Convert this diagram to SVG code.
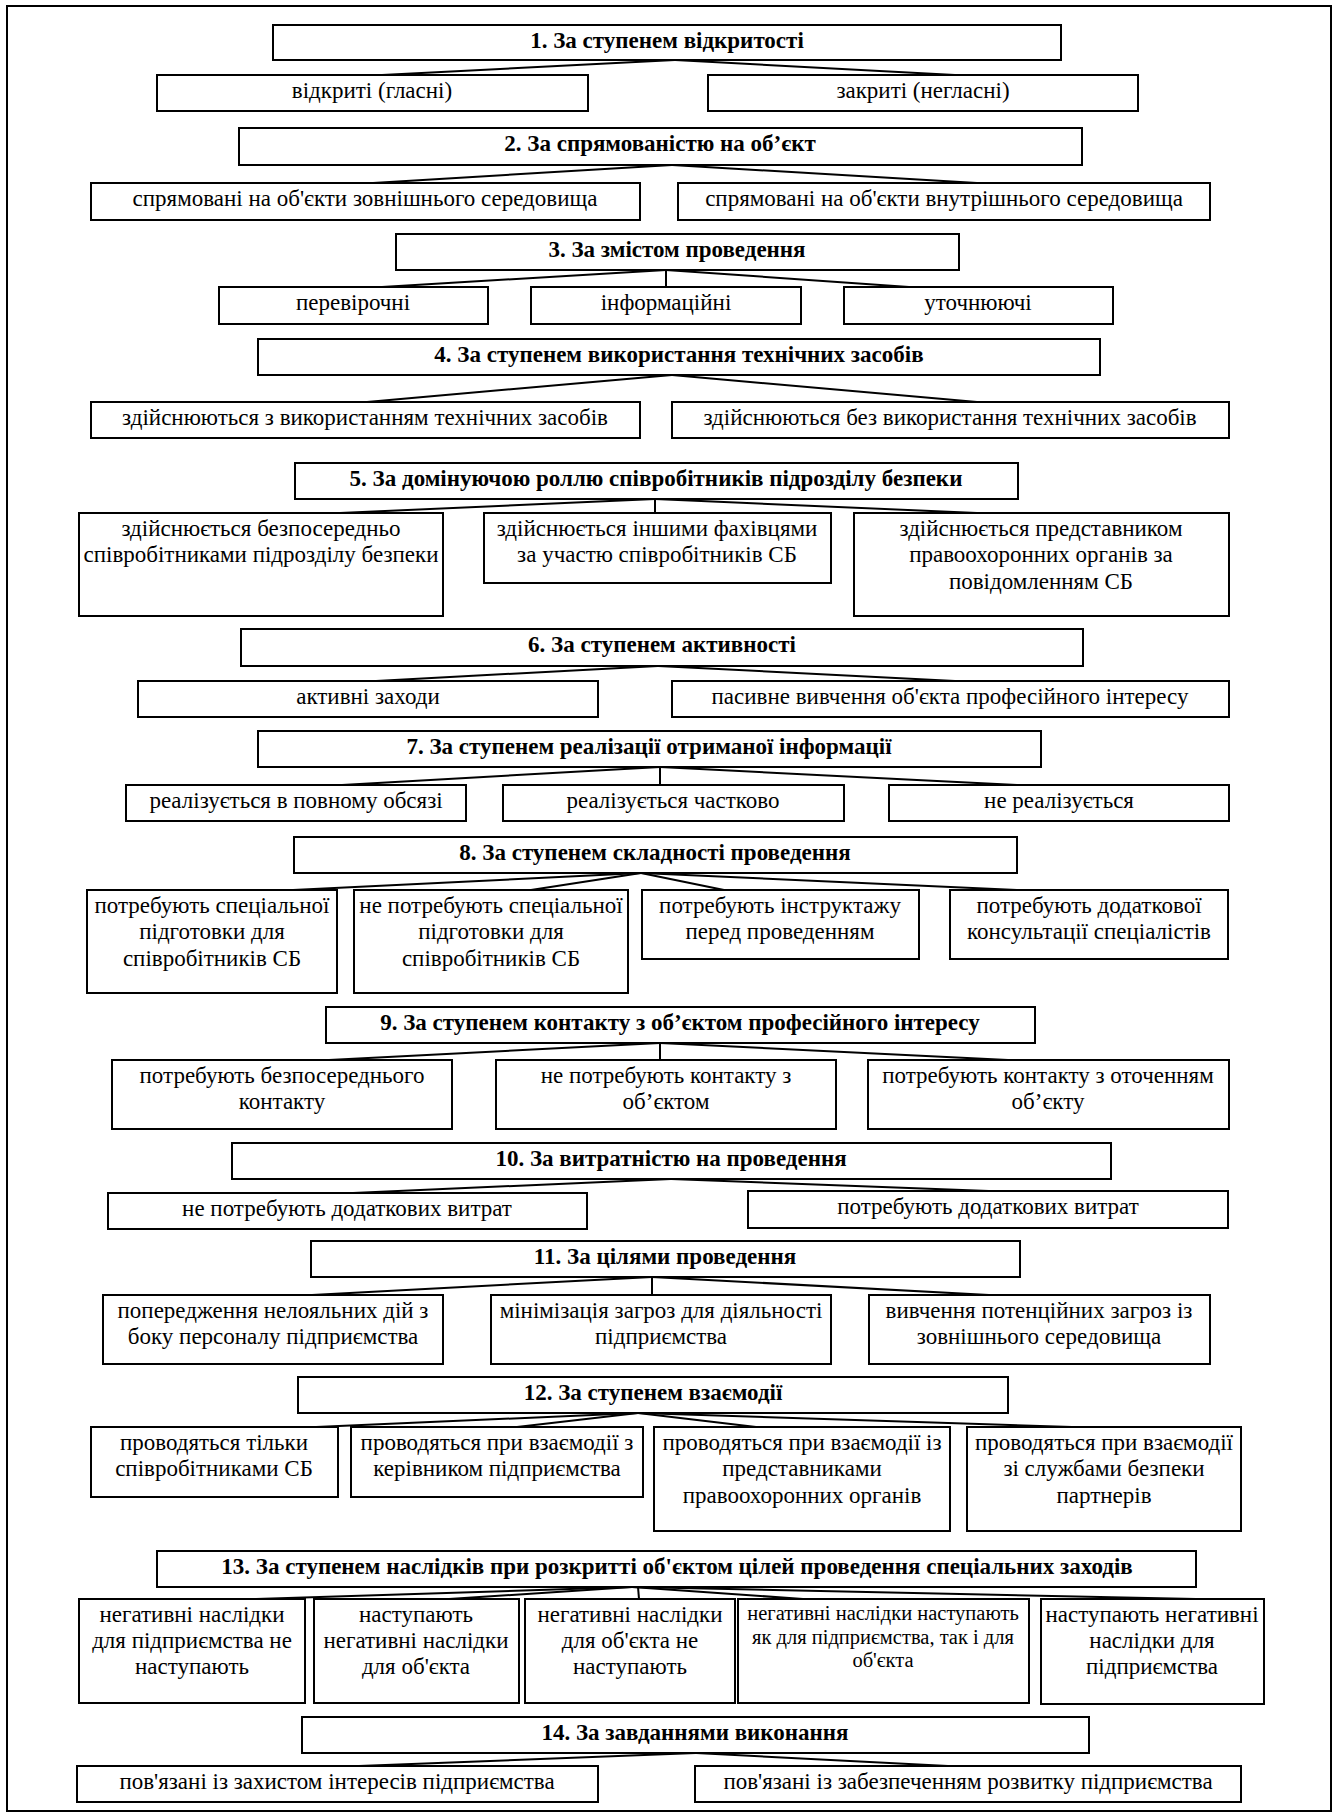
<svg xmlns="http://www.w3.org/2000/svg" width="1338" height="1814" viewBox="0 0 1338 1814">
<style>
rect.n{fill:#fff;stroke:#000;stroke-width:2}
text{font-family:"Liberation Serif","Times New Roman",serif;font-size:23px;text-anchor:middle;fill:#000}
text.h{font-weight:bold}
text.s{font-size:20.5px}
#connectors line{stroke:#000;stroke-width:2}
</style>
<rect x="0" y="0" width="1338" height="1814" fill="#fff"/>
<rect x="7" y="6" width="1324" height="1805" fill="none" stroke="#000" stroke-width="2"/>
<g id="connectors">
<line x1="675" y1="60" x2="382" y2="75"/><line x1="675" y1="60" x2="955" y2="75"/>
<line x1="672" y1="165" x2="373" y2="183"/><line x1="672" y1="165" x2="977" y2="183"/>
<line x1="666" y1="270" x2="382" y2="287"/><line x1="666" y1="270" x2="666" y2="287"/><line x1="666" y1="270" x2="909" y2="287"/>
<line x1="672" y1="375" x2="367" y2="402"/><line x1="672" y1="375" x2="977" y2="402"/>
<line x1="655" y1="499" x2="340" y2="513"/><line x1="655" y1="499" x2="655" y2="513"/><line x1="655" y1="499" x2="977" y2="513"/>
<line x1="658" y1="666" x2="376" y2="681"/><line x1="658" y1="666" x2="955" y2="681"/>
<line x1="660" y1="767" x2="342" y2="785"/><line x1="660" y1="767" x2="660" y2="785"/><line x1="660" y1="767" x2="1017" y2="785"/>
<line x1="641" y1="873" x2="293" y2="890"/><line x1="641" y1="873" x2="531" y2="890"/><line x1="641" y1="873" x2="724" y2="890"/><line x1="641" y1="873" x2="1017" y2="890"/>
<line x1="660" y1="1043" x2="329" y2="1060"/><line x1="660" y1="1043" x2="660" y2="1060"/><line x1="660" y1="1043" x2="1008" y2="1060"/>
<line x1="671" y1="1179" x2="353" y2="1193"/><line x1="671" y1="1179" x2="989" y2="1191"/>
<line x1="652" y1="1277" x2="312" y2="1295"/><line x1="652" y1="1277" x2="652" y2="1295"/><line x1="652" y1="1277" x2="989" y2="1295"/>
<line x1="638" y1="1413" x2="316" y2="1427"/><line x1="638" y1="1413" x2="517" y2="1427"/><line x1="638" y1="1413" x2="756" y2="1427"/><line x1="638" y1="1413" x2="1072" y2="1427"/>
<line x1="632" y1="1587" x2="256" y2="1599"/><line x1="632" y1="1587" x2="449" y2="1599"/><line x1="638" y1="1587" x2="639" y2="1599"/><line x1="632" y1="1587" x2="803" y2="1599"/><line x1="632" y1="1587" x2="1196" y2="1599"/>
<line x1="696" y1="1753" x2="359" y2="1766"/><line x1="696" y1="1753" x2="948" y2="1766"/>
</g>

<g id="t1"><rect class="n" x="273" y="25" width="788" height="35"/><text class="h" x="667" y="48">1. За ступенем відкритості</text></g>
<g id="c1a"><rect class="n" x="157" y="75" width="431" height="36"/><text x="372" y="98">відкриті (гласні)</text></g>
<g id="c1b"><rect class="n" x="708" y="75" width="430" height="36"/><text x="923" y="98">закриті (негласні)</text></g>

<g id="t2"><rect class="n" x="239" y="128" width="843" height="37"/><text class="h" x="660" y="151">2. За спрямованістю на об’єкт</text></g>
<g id="c2a"><rect class="n" x="91" y="183" width="549" height="37"/><text x="365" y="206">спрямовані на об'єкти зовнішнього середовища</text></g>
<g id="c2b"><rect class="n" x="678" y="183" width="532" height="37"/><text x="944" y="206">спрямовані на об'єкти внутрішнього середовища</text></g>

<g id="t3"><rect class="n" x="396" y="234" width="563" height="36"/><text class="h" x="677" y="257">3. За змістом проведення</text></g>
<g id="c3a"><rect class="n" x="219" y="287" width="269" height="37"/><text x="353" y="310">перевірочні</text></g>
<g id="c3b"><rect class="n" x="531" y="287" width="270" height="37"/><text x="666" y="310">інформаційні</text></g>
<g id="c3c"><rect class="n" x="844" y="287" width="269" height="37"/><text x="978" y="310">уточнюючі</text></g>

<g id="t4"><rect class="n" x="258" y="339" width="842" height="36"/><text class="h" x="679" y="362">4. За ступенем використання технічних засобів</text></g>
<g id="c4a"><rect class="n" x="91" y="402" width="549" height="36"/><text x="365" y="425">здійснюються з використанням технічних засобів</text></g>
<g id="c4b"><rect class="n" x="672" y="402" width="557" height="36"/><text x="950" y="425">здійснюються без використання технічних засобів</text></g>

<g id="t5"><rect class="n" x="295" y="463" width="723" height="36"/><text class="h" x="656" y="486">5. За домінуючою роллю співробітників підрозділу безпеки</text></g>
<g id="c5a"><rect class="n" x="79" y="513" width="364" height="103"/><text x="261" y="536">здійснюється безпосередньо</text><text x="261" y="562">співробітниками підрозділу безпеки</text></g>
<g id="c5b"><rect class="n" x="484" y="513" width="347" height="70"/><text x="657" y="536">здійснюється іншими фахівцями</text><text x="657" y="562">за участю співробітників СБ</text></g>
<g id="c5c"><rect class="n" x="854" y="513" width="375" height="103"/><text x="1041" y="536">здійснюється представником</text><text x="1041" y="562">правоохоронних органів за</text><text x="1041" y="589">повідомленням СБ</text></g>

<g id="t6"><rect class="n" x="241" y="629" width="842" height="37"/><text class="h" x="662" y="652">6. За ступенем активності</text></g>
<g id="c6a"><rect class="n" x="138" y="681" width="460" height="36"/><text x="368" y="704">активні заходи</text></g>
<g id="c6b"><rect class="n" x="672" y="681" width="557" height="36"/><text x="950" y="704">пасивне вивчення об'єкта професійного інтересу</text></g>

<g id="t7"><rect class="n" x="258" y="731" width="783" height="36"/><text class="h" x="649" y="754">7. За ступенем реалізації отриманої інформації</text></g>
<g id="c7a"><rect class="n" x="126" y="785" width="340" height="36"/><text x="296" y="808">реалізується в повному обсязі</text></g>
<g id="c7b"><rect class="n" x="503" y="785" width="341" height="36"/><text x="673" y="808">реалізується частково</text></g>
<g id="c7c"><rect class="n" x="889" y="785" width="340" height="36"/><text x="1059" y="808">не реалізується</text></g>

<g id="t8"><rect class="n" x="294" y="837" width="723" height="36"/><text class="h" x="655" y="860">8. За ступенем складності проведення</text></g>
<g id="c8a"><rect class="n" x="87" y="890" width="250" height="103"/><text x="212" y="913">потребують спеціальної</text><text x="212" y="939">підготовки для</text><text x="212" y="966">співробітників СБ</text></g>
<g id="c8b"><rect class="n" x="354" y="890" width="274" height="103"/><text x="491" y="913">не потребують спеціальної</text><text x="491" y="939">підготовки для</text><text x="491" y="966">співробітників СБ</text></g>
<g id="c8c"><rect class="n" x="642" y="890" width="277" height="69"/><text x="780" y="913">потребують інструктажу</text><text x="780" y="939">перед проведенням</text></g>
<g id="c8d"><rect class="n" x="950" y="890" width="278" height="69"/><text x="1089" y="913">потребують додаткової</text><text x="1089" y="939">консультації спеціалістів</text></g>

<g id="t9"><rect class="n" x="326" y="1007" width="709" height="36"/><text class="h" x="680" y="1030">9. За ступенем контакту з об’єктом професійного інтересу</text></g>
<g id="c9a"><rect class="n" x="112" y="1060" width="340" height="69"/><text x="282" y="1083">потребують безпосереднього</text><text x="282" y="1109">контакту</text></g>
<g id="c9b"><rect class="n" x="496" y="1060" width="340" height="69"/><text x="666" y="1083">не потребують контакту з</text><text x="666" y="1109">об’єктом</text></g>
<g id="c9c"><rect class="n" x="868" y="1060" width="361" height="69"/><text x="1048" y="1083">потребують контакту з оточенням</text><text x="1048" y="1109">об’єкту</text></g>

<g id="t10"><rect class="n" x="232" y="1143" width="879" height="36"/><text class="h" x="671" y="1166">10. За витратністю на проведення</text></g>
<g id="c10a"><rect class="n" x="108" y="1193" width="479" height="36"/><text x="347" y="1216">не потребують додаткових витрат</text></g>
<g id="c10b"><rect class="n" x="748" y="1191" width="480" height="37"/><text x="988" y="1214">потребують додаткових витрат</text></g>

<g id="t11"><rect class="n" x="311" y="1241" width="709" height="36"/><text class="h" x="665" y="1264">11. За цілями проведення</text></g>
<g id="c11a"><rect class="n" x="103" y="1295" width="340" height="69"/><text x="273" y="1318">попередження нелояльних дій з</text><text x="273" y="1344">боку персоналу підприємства</text></g>
<g id="c11b"><rect class="n" x="491" y="1295" width="340" height="69"/><text x="661" y="1318">мінімізація загроз для діяльності</text><text x="661" y="1344">підприємства</text></g>
<g id="c11c"><rect class="n" x="869" y="1295" width="341" height="69"/><text x="1039" y="1318">вивчення потенційних загроз із</text><text x="1039" y="1344">зовнішнього середовища</text></g>

<g id="t12"><rect class="n" x="298" y="1377" width="710" height="36"/><text class="h" x="653" y="1400">12. За ступенем взаємодії</text></g>
<g id="c12a"><rect class="n" x="91" y="1427" width="247" height="70"/><text x="214" y="1450">проводяться тільки</text><text x="214" y="1476">співробітниками СБ</text></g>
<g id="c12b"><rect class="n" x="351" y="1427" width="292" height="70"/><text x="497" y="1450">проводяться при взаємодії з</text><text x="497" y="1476">керівником підприємства</text></g>
<g id="c12c"><rect class="n" x="654" y="1427" width="296" height="104"/><text x="802" y="1450">проводяться при взаємодії із</text><text x="802" y="1476">представниками</text><text x="802" y="1503">правоохоронних органів</text></g>
<g id="c12d"><rect class="n" x="967" y="1427" width="274" height="104"/><text x="1104" y="1450">проводяться при взаємодії</text><text x="1104" y="1476">зі службами безпеки</text><text x="1104" y="1503">партнерів</text></g>

<g id="t13"><rect class="n" x="157" y="1551" width="1039" height="36"/><text class="h" x="677" y="1574">13. За ступенем наслідків при розкритті об'єктом цілей проведення спеціальних заходів</text></g>
<g id="c13a"><rect class="n" x="79" y="1599" width="226" height="104"/><text x="192" y="1622">негативні наслідки</text><text x="192" y="1648">для підприємства не</text><text x="192" y="1674">наступають</text></g>
<g id="c13b"><rect class="n" x="314" y="1599" width="205" height="104"/><text x="416" y="1622">наступають</text><text x="416" y="1648">негативні наслідки</text><text x="416" y="1674">для об'єкта</text></g>
<g id="c13c"><rect class="n" x="525" y="1599" width="210" height="104"/><text x="630" y="1622">негативні наслідки</text><text x="630" y="1648">для об'єкта не</text><text x="630" y="1674">наступають</text></g>
<g id="c13d"><rect class="n" x="738" y="1599" width="291" height="104"/><text class="s" x="883" y="1620">негативні наслідки наступають</text><text class="s" x="883" y="1644">як для підприємства, так і для</text><text class="s" x="883" y="1667">об'єкта</text></g>
<g id="c13e"><rect class="n" x="1041" y="1599" width="223" height="105"/><text x="1152" y="1622">наступають негативні</text><text x="1152" y="1648">наслідки для</text><text x="1152" y="1674">підприємства</text></g>

<g id="t14"><rect class="n" x="302" y="1717" width="787" height="36"/><text class="h" x="695" y="1740">14. За завданнями виконання</text></g>
<g id="c14a"><rect class="n" x="77" y="1766" width="521" height="36"/><text x="337" y="1789">пов'язані із захистом інтересів підприємства</text></g>
<g id="c14b"><rect class="n" x="695" y="1766" width="546" height="36"/><text x="968" y="1789">пов'язані із забезпеченням розвитку підприємства</text></g>
</svg>
